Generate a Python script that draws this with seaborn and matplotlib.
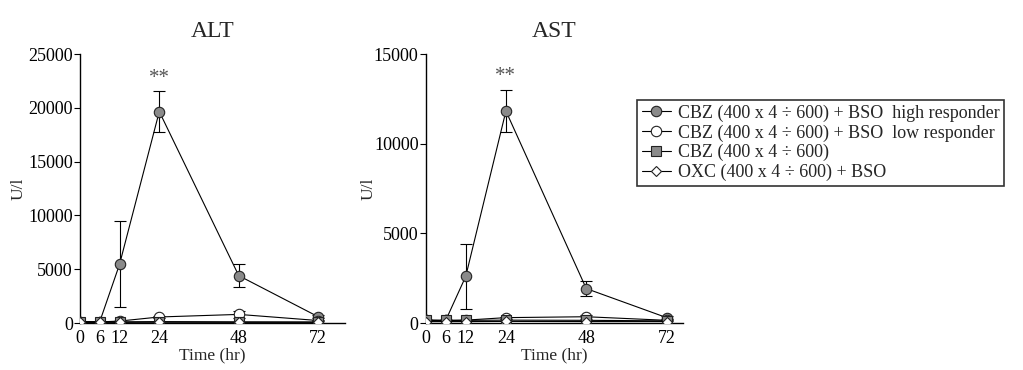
import numpy as np
import pandas as pd
import seaborn as sns
import matplotlib.pyplot as plt

# time points (hr)
time_hr = [0, 6, 12, 24, 48, 72]

labels = ['CBZ (400 x 4 ÷ 600) + BSO  high responder',
          'CBZ (400 x 4 ÷ 600) + BSO  low responder',
          'CBZ (400 x 4 ÷ 600)',
          'OXC (400 x 4 ÷ 600) + BSO']

# ALT (U/l)
alt_high = [110, 100, 5450, 19650, 4400, 580]
alt_high_err = [0, 0, 4000, 1900, 1050, 150]
alt_low = [100, 100, 180, 560, 800, 230]
alt_low_err = [0, 0, 0, 100, 300, 60]
alt_cbz = [120, 110, 110, 130, 110, 100]
alt_oxc = [60, 60, 60, 70, 60, 60]

# AST (U/l)
ast_high = [150, 140, 2600, 11820, 1920, 300]
ast_high_err = [0, 0, 1800, 1150, 420, 80]
ast_low = [150, 140, 160, 300, 350, 150]
ast_low_err = [0, 0, 0, 60, 100, 40]
ast_cbz = [160, 150, 150, 160, 150, 120]
ast_oxc = [80, 80, 80, 90, 80, 80]

sns.set_style("ticks")
plt.rcParams['font.family'] = ['Liberation Serif', 'DejaVu Serif']

fig = plt.figure(figsize=(10.23, 3.70), dpi=100)
ax1 = fig.add_axes([0.078, 0.127, 0.259, 0.727])
ax2 = fig.add_axes([0.416, 0.127, 0.252, 0.727])

styles = [dict(marker='o', mfc='#8a8a8a', ms=7.5),
          dict(marker='o', mfc='white', ms=7.5),
          dict(marker='s', mfc='#8a8a8a', ms=7.5),
          dict(marker='D', mfc='white', ms=5.5)]


def draw(ax, series, errs, ymax, xmax, title, star_y):
    for i, (vals, lab) in enumerate(zip(series, labels)):
        df = pd.DataFrame({'Time': time_hr, 'val': vals})
        st = styles[i]
        sns.lineplot(data=df, x='Time', y='val', ax=ax, color='black', lw=0.8,
                     marker=st['marker'], markersize=st['ms'],
                     markerfacecolor=st['mfc'], markeredgecolor='#222222',
                     markeredgewidth=0.8, label=lab, legend=False, zorder=3 + i)
        if errs[i] is not None:
            e = np.array(errs[i])
            m = e > 0
            ax.errorbar(np.array(time_hr)[m], np.array(vals)[m], yerr=e[m],
                        fmt='none', ecolor='black', elinewidth=0.8,
                        capsize=4, capthick=0.8, zorder=2)
    ax.text(24, star_y, '**', ha='center', va='center', fontsize=15, color='#555555')
    ax.set_xlim(0, xmax)
    ax.set_ylim(0, ymax)
    ax.set_xticks(time_hr)
    ax.set_yticks(np.arange(0, ymax + 1, 5000))
    ax.set_title(title, fontsize=17, pad=12)
    ax.set_xlabel('Time (hr)', fontsize=12.5, labelpad=0)
    ax.set_ylabel('U/l', fontsize=12.5)
    ax.tick_params(axis='both', labelsize=13, width=0.8, colors='black')
    ax.tick_params(axis='x', length=0, pad=5)
    ax.tick_params(axis='y', length=4, pad=1)
    sns.despine(ax=ax)
    for s in ['left', 'bottom']:
        ax.spines[s].set_linewidth(1.0)
        ax.spines[s].set_color('black')


draw(ax1, [alt_high, alt_low, alt_cbz, alt_oxc],
     [alt_high_err, alt_low_err, None, None], 25000, 80, 'ALT', 22700)
draw(ax2, [ast_high, ast_low, ast_cbz, ast_oxc],
     [ast_high_err, ast_low_err, None, None], 15000, 77, 'AST', 13770)
ax1.yaxis.set_label_coords(-0.2, 0.5)
ax2.yaxis.set_label_coords(-0.19, 0.5)

handles, labs = ax1.get_legend_handles_labels()
leg = fig.legend(handles, labs, loc='upper left', bbox_to_anchor=(0.623, 0.73),
                 fontsize=13, frameon=True, fancybox=False, edgecolor='black',
                 handlelength=1.6, handletextpad=0.4, labelspacing=0.14,
                 borderpad=0.25, borderaxespad=0)
leg.get_frame().set_linewidth(1.2)

fig.savefig('out.png', dpi=100)
